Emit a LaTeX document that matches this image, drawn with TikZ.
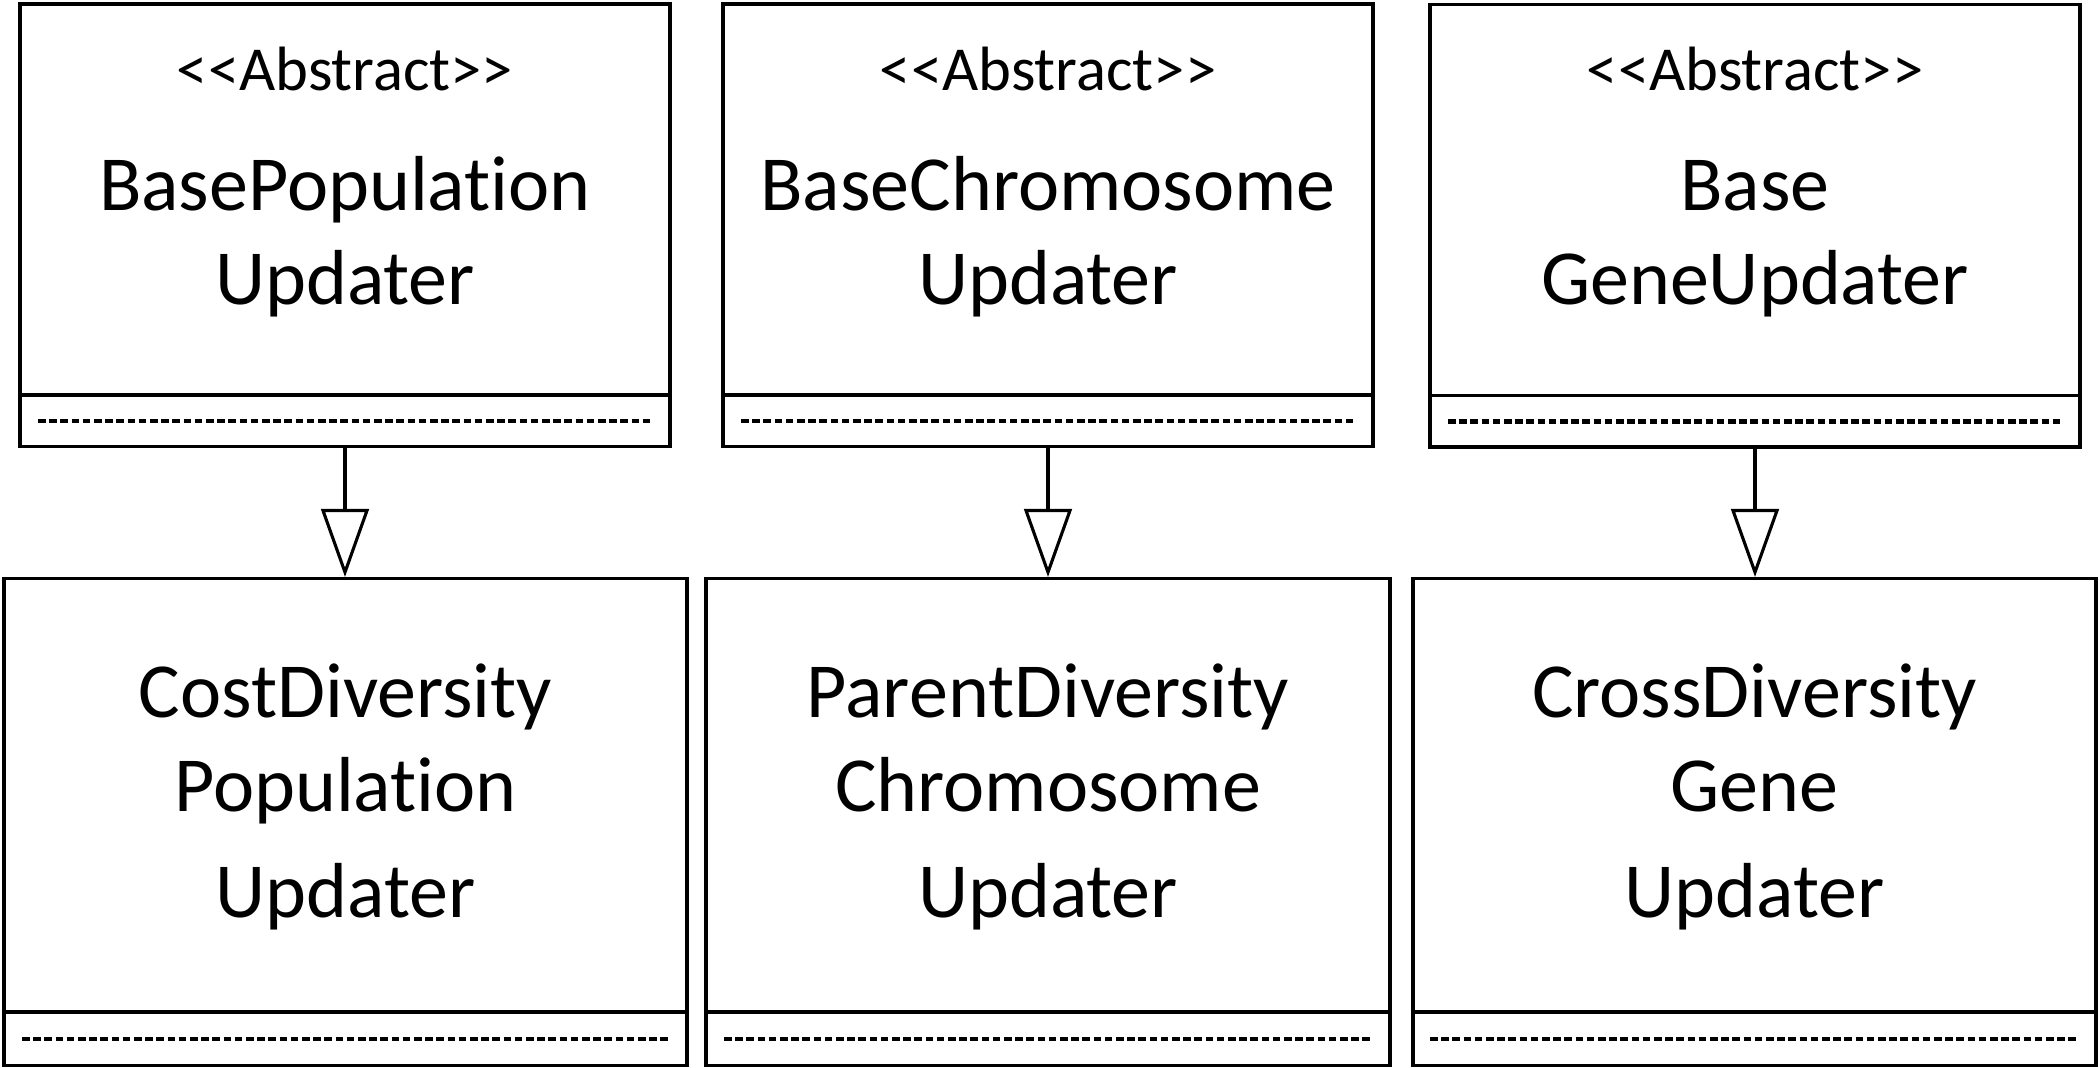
\documentclass[tikz,border=0pt]{standalone}
\usepackage{fontspec}
\setmainfont{Carlito}[Ligatures={NoCommon}]
\usetikzlibrary{arrows.meta,fit}
\tikzset{
  boxline/.style={draw=black, line width=1.55pt, inner sep=0pt},
  dashline/.style={line width=2.1pt, dash pattern=on 3.8pt off 1.8pt},
  inherit/.style={line width=1.55pt, -{Triangle[open, length=34pt, width=23.8pt]}},
  stereo/.style={anchor=base, inner sep=0pt, font=\fontsize{31.3}{37}\selectfont},
  cname/.style={anchor=base, inner sep=0pt, font=\fontsize{39}{47}\selectfont}
}
\begin{document}
\begin{tikzpicture}[x=0.5pt,y=-0.5pt]
\useasboundingbox (0,0) rectangle (2100,1068);
% top row
\node[boxline, fit={(20,4) (670,395)}] (a1) {};
\node[boxline, fit={(20,395) (670,446.5)}] (c1) {};
\node[boxline, fit={(723,4) (1373,395)}] (a2) {};
\node[boxline, fit={(723,395) (1373,446.5)}] (c2) {};
\node[boxline, fit={(1430,4.5) (2080,395.5)}] (a3) {};
\node[boxline, fit={(1430,395.5) (2080,447)}] (c3) {};
% bottom row
\node[boxline, fit={(4,578.5) (687,1012)}] (b1) {};
\node[boxline, fit={(4,1012) (687,1065.5)}] (d1) {};
\node[boxline, fit={(706,578.5) (1390,1012)}] (b2) {};
\node[boxline, fit={(706,1012) (1390,1065.5)}] (d2) {};
\node[boxline, fit={(1413,578.5) (2096,1012)}] (b3) {};
\node[boxline, fit={(1413,1012) (2096,1065.5)}] (d3) {};
% dashed attribute lines
\draw[dashline] (38,421) -- (653,421);
\draw[dashline] (741,421) -- (1356,421);
\draw[dashline] (1448,421.5) -- (2063,421.5);
\draw[dashline] (22,1039) -- (670,1039);
\draw[dashline] (724,1039) -- (1373,1039);
\draw[dashline] (1430,1039) -- (2079,1039);
% texts top
\node[stereo] (s1) at (345,91) {<\kern0pt<Abstract>\kern0pt>};
\node[cname] (t1a) at (345,211) {BasePopulation};
\node[cname] (t1b) at (345,305) {Updater};
\node[stereo] (s2) at (1048,91) {<\kern0pt<Abstract>\kern0pt>};
\node[cname] (t2a) at (1048,211) {BaseChromosome};
\node[cname] (t2b) at (1048,305) {Updater};
\node[stereo] (s3) at (1755,91) {<\kern0pt<Abstract>\kern0pt>};
\node[cname] (t3a) at (1755,211) {Base};
\node[cname] (t3b) at (1755,305) {GeneUpdater};
% texts bottom
\node[cname] (u1a) at (345.5,718) {CostDiversity};
\node[cname] (u1b) at (345.5,812) {Population};
\node[cname] (u1c) at (345.5,918) {Updater};
\node[cname] (u2a) at (1048,718) {ParentDiversity};
\node[cname] (u2b) at (1048,812) {Chromosome};
\node[cname] (u2c) at (1048,918) {Updater};
\node[cname] (u3a) at (1754.5,718) {CrossDiversity};
\node[cname] (u3b) at (1754.5,812) {Gene};
\node[cname] (u3c) at (1754.5,918) {Updater};
% inheritance arrows
\draw[inherit] (c1.south) -- (b1.north -| c1.south);
\draw[inherit] (c2.south) -- (b2.north -| c2.south);
\draw[inherit] (c3.south) -- (b3.north -| c3.south);
\end{tikzpicture}
\end{document}
